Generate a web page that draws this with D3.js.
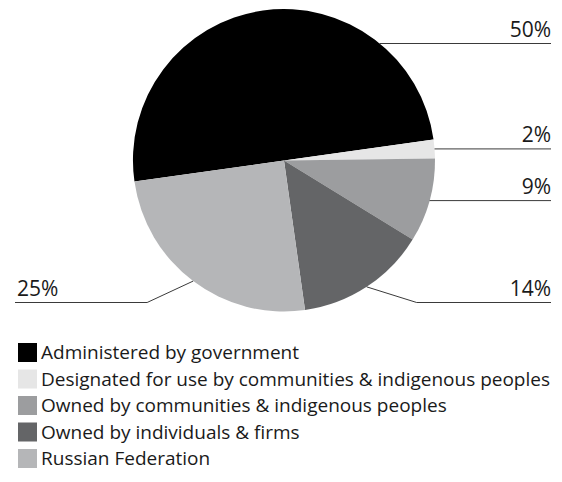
<!DOCTYPE html>
<html>
<head>
<meta charset="utf-8">
<script src="https://cdn.jsdelivr.net/npm/d3@7"></script>
<style>
  body { margin: 0; background: #fff; }
  svg { display: block; }
  text { font-family: "Open Sans", "Noto Sans", sans-serif; fill: #1a1a1a; }
</style>
</head>
<body>
<svg id="chart" width="562" height="482"></svg>
<script>
// Forest ownership shares
const categories = [
  "Administered by government",
  "Designated for use by communities & indigenous peoples",
  "Owned by communities & indigenous peoples",
  "Owned by individuals & firms",
  "Russian Federation"
];
const shares = [50, 2, 9, 14, 25];
const shareLabels = ["50%", "2%", "9%", "14%", "25%"];
const colors = ["#000000", "#e6e6e6", "#9c9d9f", "#646567", "#b5b6b8"];

// Layout
const W = 562, H = 482;
const cx = 284, cy = 160.5, r = 151;
const startDeg = -98;
const lineRight = 551, lineLeft = 15;
const leaders = [
  { mode: "edge", y: 43.5 },
  { mode: "mid" },
  { mode: "mid" },
  { mode: "elbow", y: 302.5, dx: 50 },
  { mode: "elbow", y: 302.5, dx: -46 }
];
const legend = { x: 18, y: 343, box: 19, pitch: 26.5, textX: 41, fontSize: 19 };
const labelFont = 21;

const svg = d3.select("#chart");

const pie = d3.pie()
  .sort(null)
  .value(d => d)
  .startAngle(startDeg * Math.PI / 180)
  .endAngle(startDeg * Math.PI / 180 + 2 * Math.PI);
const arcs = pie(shares);
const arc = d3.arc().innerRadius(0).outerRadius(r);

const g = svg.append("g").attr("transform", `translate(${cx},${cy})`);
g.selectAll("path")
  .data(arcs)
  .join("path")
  .attr("d", arc)
  .attr("fill", (d, i) => colors[i]);

// Leader lines and percentage labels
arcs.forEach((a, i) => {
  const L = leaders[i];
  const mid = (a.startAngle + a.endAngle) / 2;
  let pts;
  if (L.mode === "edge") {
    const dy = L.y - cy;
    const x = cx + Math.sqrt(r * r - dy * dy);
    pts = [[x, L.y], [lineRight, L.y]];
  } else {
    const ax = cx + r * Math.sin(mid);
    const ay = cy - r * Math.cos(mid);
    if (L.mode === "mid") {
      pts = [[ax, ay], [lineRight, ay]];
    } else {
      const ex = ax + L.dx;
      pts = [[ax, ay], [ex, L.y], [L.dx > 0 ? lineRight : lineLeft, L.y]];
    }
  }
  svg.append("path")
    .attr("d", d3.line()(pts))
    .attr("fill", "none")
    .attr("stroke", "#3a3a3a")
    .attr("stroke-width", 1);
  const last = pts[pts.length - 1];
  const right = last[0] > cx;
  svg.append("text")
    .attr("x", right ? lineRight : lineLeft + 2)
    .attr("y", last[1] - 7)
    .attr("text-anchor", right ? "end" : "start")
    .attr("font-size", labelFont)
    .text(shareLabels[i]);
});

// Legend
const lg = svg.append("g").attr("transform", `translate(${legend.x},${legend.y})`);
const rows = lg.selectAll("g")
  .data(categories)
  .join("g")
  .attr("transform", (d, i) => `translate(0,${i * legend.pitch})`);
rows.append("rect")
  .attr("width", legend.box)
  .attr("height", legend.box)
  .attr("fill", (d, i) => colors[i]);
rows.append("text")
  .attr("x", legend.textX - legend.x)
  .attr("y", legend.box / 2)
  .attr("dy", "0.35em")
  .attr("font-size", legend.fontSize)
  .text(d => d);
</script>
</body>
</html>
